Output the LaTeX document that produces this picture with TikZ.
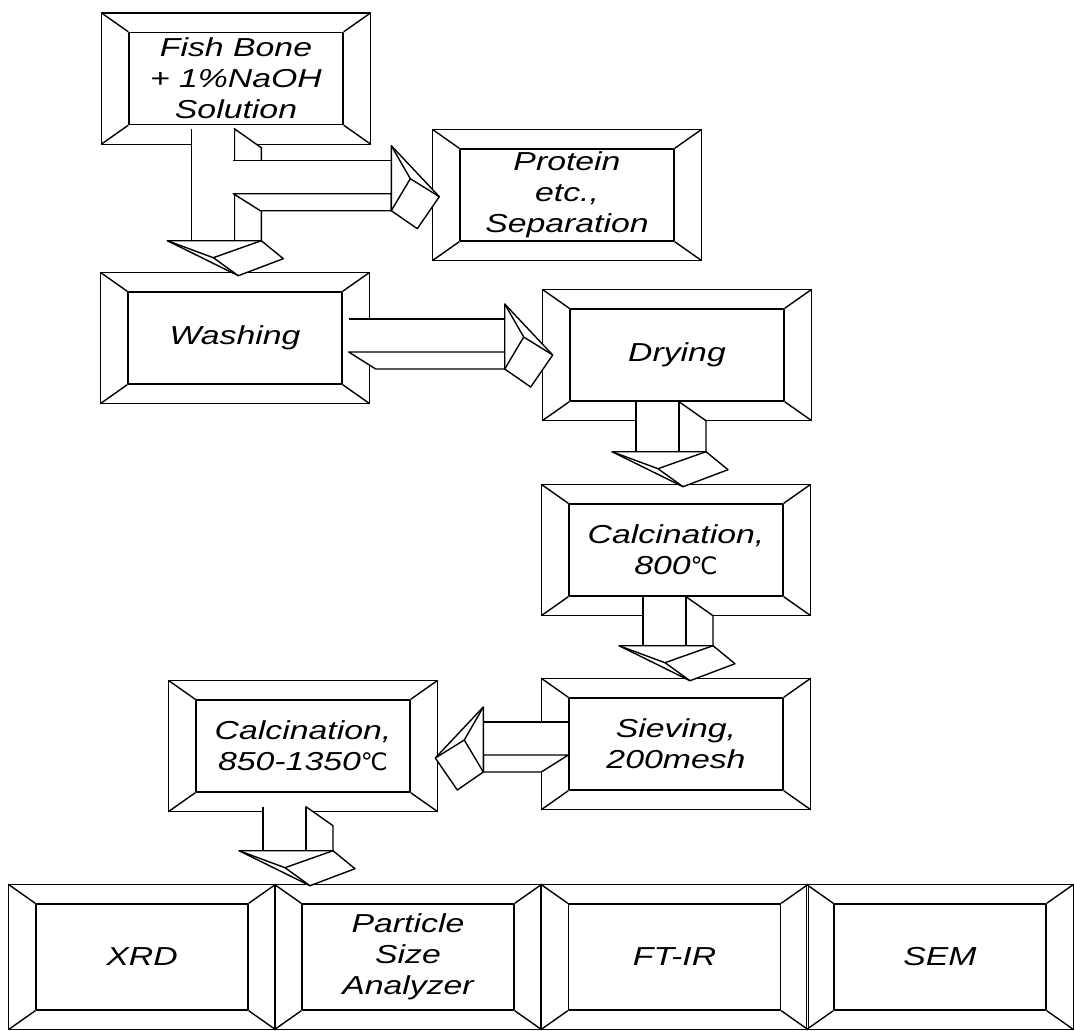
\documentclass[tikz,border=0pt]{standalone}
\usepackage{fontspec}
\setmainfont{Liberation Sans}[FakeStretch=1.3]
\newfontfamily\degfont{DejaVu Sans}
\usetikzlibrary{calc}

\newcommand{\degC}{{\degfont\upshape\fontsize{24}{24}\selectfont ℃}}
% beveled frame round an inner node
\newcommand{\bevelbox}[1]{%
  \draw ($(#1.north west)+(-27,-19)$) rectangle ($(#1.south east)+(27,19)$);
  \draw (#1.north west) -- ++(-27,-19);
  \draw (#1.north east) -- ++(27,-19);
  \draw (#1.south west) -- ++(-27,19);
  \draw (#1.south east) -- ++(27,19);
}

\begin{document}
\begin{tikzpicture}[x=1pt, y=-1pt, line width=1.4pt, line join=round,
  stage/.style={draw, minimum width=214pt, minimum height=92pt, inner sep=0pt,
    align=center, font=\fontsize{26}{31}\selectfont\itshape},
  result/.style={stage, minimum width=212pt, minimum height=106pt},
  pics/dnarrow/.style={code={
    % side face
    \filldraw[fill=white] (43,0) -- (70,19) -- (70,#1) -- (43,#1) -- cycle;
    % shaft
    \fill[white] (0,0) rectangle (43,#1);
    \draw (0,0) -- (0,#1);
    \draw (43,0) -- (43,#1);
    % head
    \filldraw[fill=white] (-24,#1) -- (70,#1) -- (92,#1+18) -- (47,#1+35) -- cycle;
    \draw (-24,#1) -- (22,#1+17) -- (70,#1) (22,#1+17) -- (47,#1+35);
  }},
  pics/rtarrow/.style={code={
    % shaft
    \fill[white] (0,0) rectangle (#1,33);
    \draw (0,0) -- (#1,0);
    % bottom face
    \filldraw[fill=white] (0,33) -- (27,50) -- (#1,50) -- (#1,33) -- cycle;
    % head
    \filldraw[fill=white] (#1,-15) -- (#1+48,36) -- (#1+26,68) -- (#1,50) -- cycle;
    \draw (#1,-15) -- (#1+19,18) -- (#1+48,36) (#1+19,18) -- (#1,50);
  }}]
  \useasboundingbox (0,0) rectangle (1074,1031);

  % Process steps
  \node[stage] (fish) at (236,78.5) {Fish Bone\\+ 1\%NaOH\\Solution};
  \node[stage] (prot) at (567,195) {Protein\\etc.,\\Separation};
  \node[stage] (wash) at (235,338) {Washing};
  \node[stage] (dry) at (677,355) {Drying};
  \node[stage] (calA) at (676,550) {Calcination,\\800\degC};
  \node[stage] (siev) at (676,744) {Sieving,\\200mesh};
  \node[stage] (calB) at (303,746) {Calcination,\\850-1350\degC};
  % Analyses
  \node[result] (xrd) at (142,957) {XRD};
  \node[result] (psa) at (408,957) {Particle\\Size\\Analyzer};
  \node[result] (ftir) at (674.5,957) {FT-IR};
  \node[result] (sem) at (940,957) {SEM};
  \foreach \b in {fish,prot,wash,dry,calA,siev,calB,xrd,psa,ftir,sem}
    {\bevelbox{\b}}

  % Block arrows
  \pic at ($(fish.south west)+(63,3.5)$) {dnarrow=112};
  \pic at ($(fish.south west)+(105,35.5)$) {rtarrow=158};
  \pic at ($(wash.east)+(6,-19)$) {rtarrow=156};
  \pic at ($(dry.south)+(-41,0)$) {dnarrow=50};
  \pic at ($(calA.south)+(-33,0)$) {dnarrow=49};
  \pic[xscale=-1] at ($(siev.west)+(0,-22)$) {rtarrow=85};
  \pic at ($(calB.south)+(-40,14)$) {dnarrow=44};
\end{tikzpicture}
\end{document}
